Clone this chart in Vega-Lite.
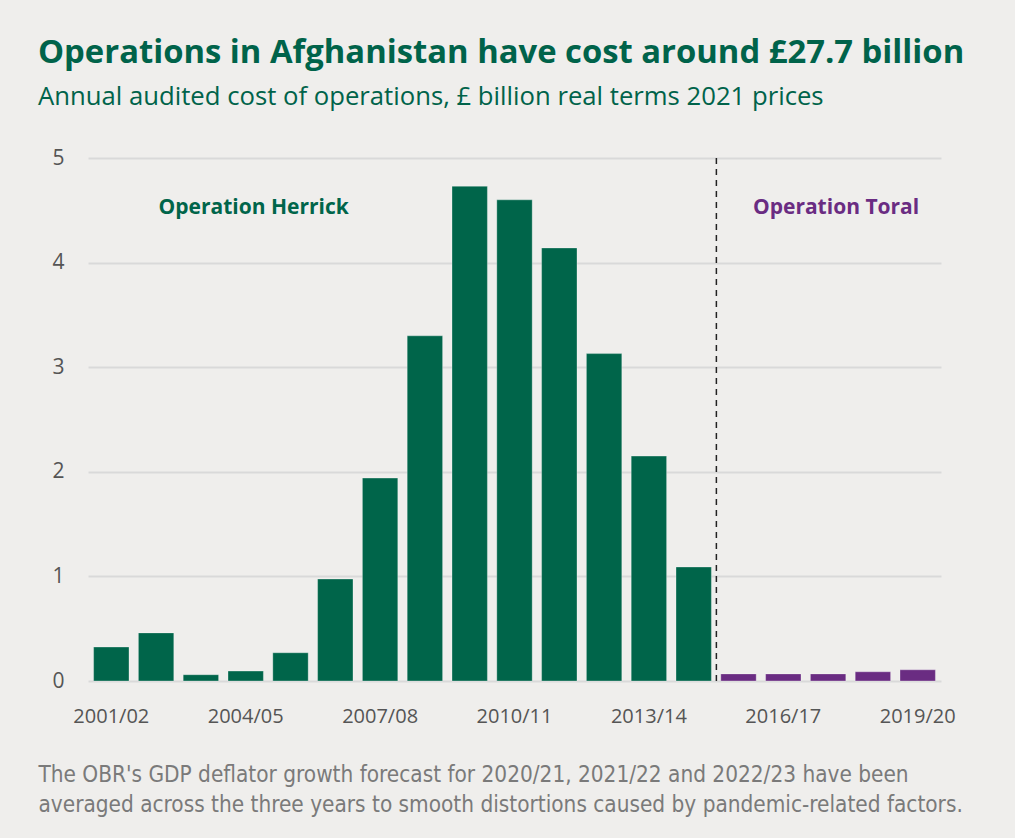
{
  "$schema": "https://vega.github.io/schema/vega-lite/v6.json",
  "autosize": "none",
  "width": 853,
  "height": 523,
  "padding": {"left": 88, "top": 158, "right": 74, "bottom": 157},
  "background": "#efeeec",
  "title": {
    "text": "Operations in Afghanistan have cost around £27.7 billion",
    "subtitle": "Annual audited cost of operations, £ billion real terms 2021 prices",
    "anchor": "start",
    "frame": "group",
    "dx": -50,
    "offset": 37,
    "font": "Open Sans",
    "fontSize": 32.8,
    "fontWeight": "bold",
    "color": "#00634a",
    "subtitleFont": "Open Sans",
    "subtitleFontSize": 25.7,
    "subtitleColor": "#00634a",
    "subtitlePadding": 16
  },
  "config": {
    "view": {"stroke": null},
    "axis": {"labelFont": "Open Sans", "labelColor": "#555555", "labelFontSize": 20}
  },
  "datasets": {
    "costs": [
      {"year": "2001/02", "cost": 0.325, "op": "Herrick"},
      {"year": "2002/03", "cost": 0.46, "op": "Herrick"},
      {"year": "2003/04", "cost": 0.06, "op": "Herrick"},
      {"year": "2004/05", "cost": 0.095, "op": "Herrick"},
      {"year": "2005/06", "cost": 0.27, "op": "Herrick"},
      {"year": "2006/07", "cost": 0.975, "op": "Herrick"},
      {"year": "2007/08", "cost": 1.94, "op": "Herrick"},
      {"year": "2008/09", "cost": 3.3, "op": "Herrick"},
      {"year": "2009/10", "cost": 4.73, "op": "Herrick"},
      {"year": "2010/11", "cost": 4.6, "op": "Herrick"},
      {"year": "2011/12", "cost": 4.14, "op": "Herrick"},
      {"year": "2012/13", "cost": 3.13, "op": "Herrick"},
      {"year": "2013/14", "cost": 2.15, "op": "Herrick"},
      {"year": "2014/15", "cost": 1.09, "op": "Herrick"},
      {"year": "2015/16", "cost": 0.068, "op": "Toral"},
      {"year": "2016/17", "cost": 0.068, "op": "Toral"},
      {"year": "2017/18", "cost": 0.068, "op": "Toral"},
      {"year": "2018/19", "cost": 0.088, "op": "Toral"},
      {"year": "2019/20", "cost": 0.107, "op": "Toral"}
    ],
    "labels": [
      {"year": "2004/05", "y": 4.52, "label": "Operation Herrick", "op": "Herrick"},
      {"year": "2017/18", "y": 4.52, "label": "Operation Toral", "op": "Toral"}
    ]
  },
  "layer": [
    {
      "data": {"name": "costs"},
      "mark": {"type": "bar", "stroke": "#ffffff", "strokeOpacity": 0.5, "strokeWidth": 0.6},
      "encoding": {
        "x": {
          "field": "year", "type": "ordinal", "sort": null,
          "scale": {"paddingInner": 0.21, "paddingOuter": 0.125},
          "axis": {
            "values": ["2001/02", "2004/05", "2007/08", "2010/11", "2013/14", "2016/17", "2019/20"],
            "labelAngle": 0, "ticks": false, "tickSize": 0, "domain": false, "labelPadding": 25,
            "title": ["The OBR's GDP deflator growth forecast for 2020/21, 2021/22 and 2022/23 have been", "averaged across the three years to smooth distortions caused by pandemic-related factors."],
            "titleX": -50, "titleY": 82, "titleAlign": "left", "titleAnchor": "start", "titleBaseline": "top",
            "titleFont": "DejaVu Sans Condensed", "titleFontSize": 22.4, "titleFontWeight": "normal",
            "titleColor": "#7a7a7a", "titleLineHeight": 30
          }
        },
        "y": {
          "field": "cost", "type": "quantitative",
          "scale": {"domain": [0, 5]},
          "axis": {
            "values": [0, 1, 2, 3, 4, 5], "format": "d", "title": null, "ticks": false, "tickSize": 0, "domain": false,
            "labelPadding": 24, "grid": true, "gridColor": "#d9d9d9", "gridWidth": 2, "labelFontSize": 21
          }
        },
        "color": {
          "field": "op", "type": "nominal",
          "scale": {"domain": ["Herrick", "Toral"], "range": ["#00654a", "#6a2c82"]},
          "legend": null
        }
      }
    },
    {
      "data": {"values": [{"year": "2015/16"}]},
      "mark": {"type": "rule", "color": "#222222", "strokeDash": [6, 5], "strokeWidth": 1.5},
      "encoding": {
        "x": {"field": "year", "type": "ordinal", "bandPosition": -0.125},
        "y": {"datum": 5},
        "y2": {"datum": 0}
      }
    },
    {
      "data": {"name": "labels"},
      "mark": {"type": "text", "font": "Open Sans", "fontSize": 21, "fontWeight": "bold", "dx": 8},
      "encoding": {
        "x": {"field": "year", "type": "ordinal"},
        "y": {"field": "y", "type": "quantitative"},
        "text": {"field": "label"},
        "color": {"field": "op", "type": "nominal"}
      }
    }
  ]
}
